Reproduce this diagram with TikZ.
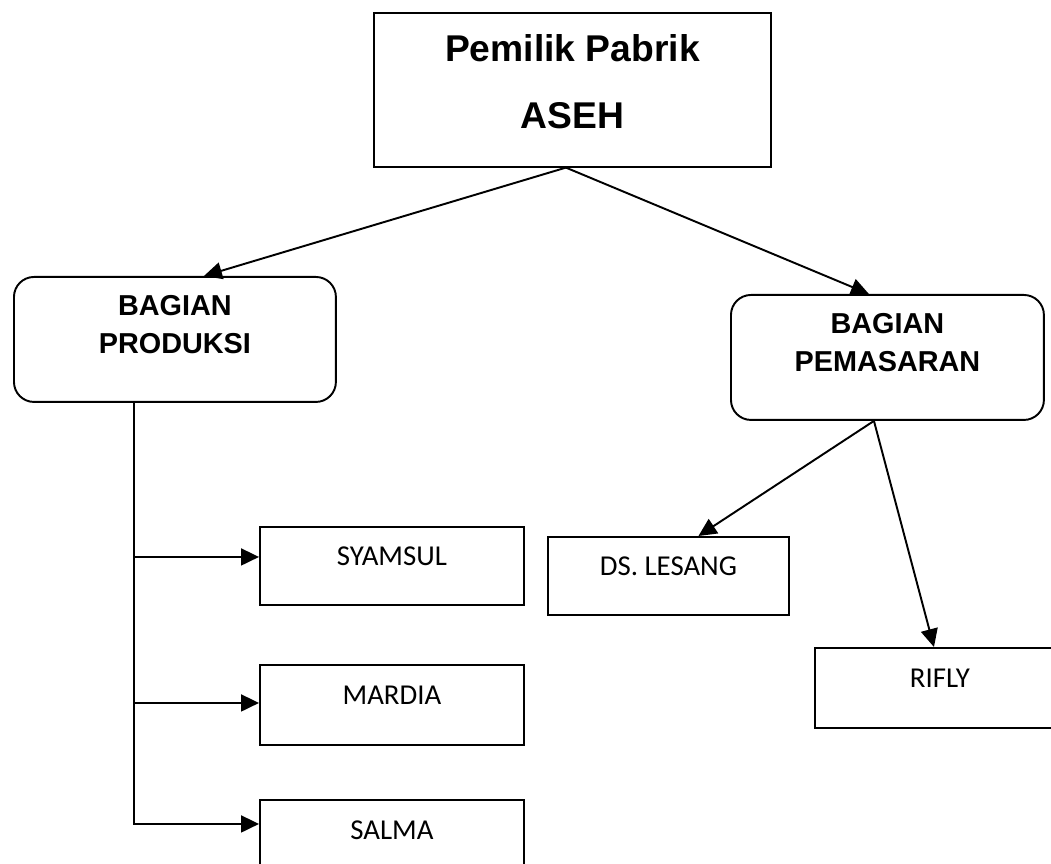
\documentclass[tikz,border=0pt]{standalone}
\usepackage{fontspec}
\setmainfont{Carlito}
\newfontfamily\headfont{Liberation Sans}
\usetikzlibrary{arrows.meta,calc}

\begin{document}
\begin{tikzpicture}[
    x=0.02cm, y=-0.02cm,
    owner/.style={
      draw,
      line width=1.1pt,
      anchor=north west,
      minimum width=7.94cm,
      minimum height=2.96cm,
      align=center,
      text height=2.2cm,
      text depth=0.64cm,
      font=\headfont\bfseries\fontsize{21.2}{38.1}\selectfont
    },
    dept/.style={
      draw,
      line width=1.1pt,
      rounded corners=0.4cm,
      anchor=north west,
      minimum height=2.5cm,
      align=center,
      text height=1.2cm,
      text depth=0.64cm,
      font=\headfont\bfseries\fontsize{16.4}{21.5}\selectfont
    },
    staff/.style={
      draw,
      line width=1.1pt,
      anchor=north west,
      minimum height=#1,
      text height=0.35cm,
      text depth=0.35cm,
      font=\fontsize{16.4}{20}\selectfont
    },
    arrow/.style={
      -{Triangle[length=0.36cm,width=0.34cm]},
      line width=1.1pt
    }
  ]

  \useasboundingbox (0,0) rectangle (1051,864);
  \clip (0,0) rectangle (1051,864);

  \node[owner] (owner) at (373,12) {Pemilik Pabrik\\ASEH};

  \node[dept, minimum width=6.44cm] (prod) at (13,276)  {BAGIAN\\PRODUKSI};
  \node[dept, minimum width=6.26cm] (pem)  at (730,294) {BAGIAN\\PEMASARAN};

  \node[staff=1.56cm, minimum width=5.28cm] (syamsul) at (259,526) {SYAMSUL};
  \node[staff=1.6cm,  minimum width=5.28cm] (mardia)  at (259,664) {MARDIA};
  \node[staff=1.6cm,  minimum width=5.28cm] (salma)   at (259,799) {SALMA};
  \node[staff=1.56cm, minimum width=4.82cm] (lesang)  at (547,536) {DS. LESANG};
  \node[staff=1.6cm,  minimum width=5.0cm]  (rifly)   at (814,647) {RIFLY};

  \draw[arrow] ([shift={(-6.5,0)}]owner.south) -- ([shift={(29,0)}]prod.north);
  \draw[arrow] ([shift={(-6.5,0)}]owner.south) -- ([shift={(-18.5,0)}]pem.north);

  % produksi line
  \coordinate (trunk)     at ([shift={(-41,0)}]prod.south);
  \coordinate (syamsulin) at ([shift={(0,-9)}]syamsul.west);
  \coordinate (mardiain)  at ([shift={(0,-2)}]mardia.west);
  \coordinate (salmain)   at ([shift={(0,-16)}]salma.west);
  \draw[arrow] (trunk) |- (salmain);
  \draw[arrow] (trunk |- syamsulin) -- (syamsulin);
  \draw[arrow] (trunk |- mardiain) -- (mardiain);

  \draw[arrow] ([shift={(-13.5,0)}]pem.south) -- ([shift={(30,0)}]lesang.north);
  \draw[arrow] ([shift={(-13.5,0)}]pem.south) -- ([shift={(-6,0)}]rifly.north);

\end{tikzpicture}
\end{document}
